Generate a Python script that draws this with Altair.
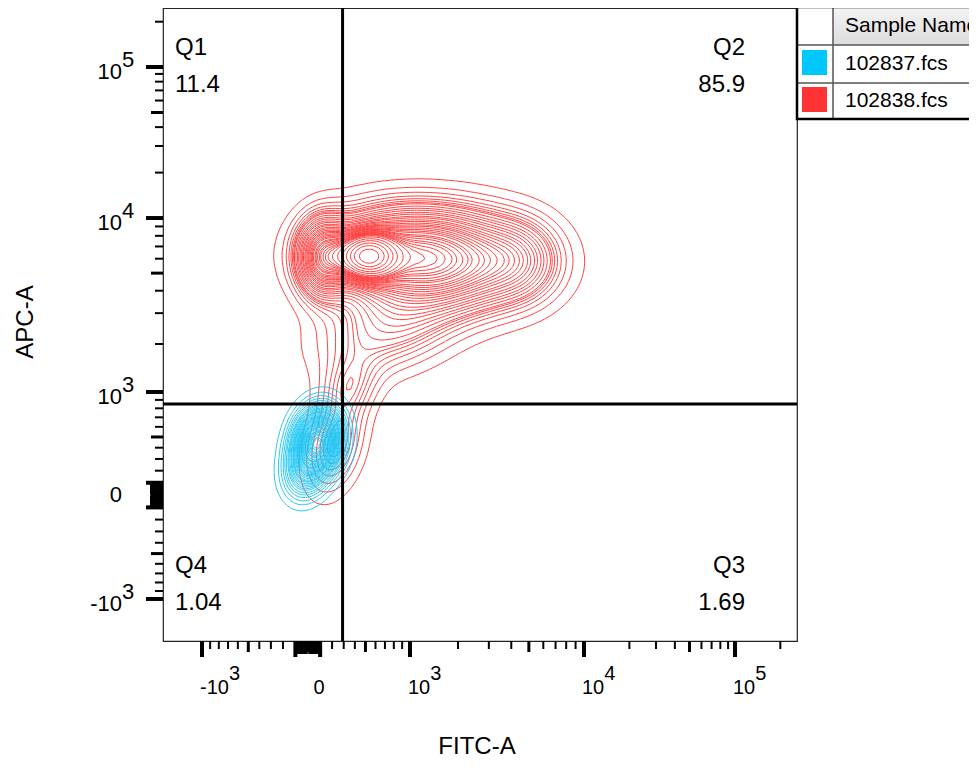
import numpy as np
import pandas as pd
import altair as alt

W, H = 634, 633
FONT = "Arial, Liberation Sans, sans-serif"

# ---------------- data ----------------
SAMPLES = ["102837.fcs", "102838.fcs"]
SWATCH = ["#00C8FF", "#FF3333"]
LINE = ["#1CC6F4", "#FF3838"]
X_TITLE = "FITC-A"
Y_TITLE = "APC-A"

# biexponential axis calibration (value -> fraction of axis length)
AX_VALUES = [-1000, 0, 1000, 10000, 100000, 262144]
X_FRAC = [0.0615, 0.2287, 0.3896, 0.6640, 0.9022, 1.0016]
Y_FRAC = [0.0664, 0.2306, 0.3934, 0.6682, 0.9068, 1.0063]
COF = 800.0

# quadrant gate
GATE_FITC = 290
GATE_APC = 850
QUAD_NAMES = ["Q1", "Q2", "Q3", "Q4"]
QUAD_VALUES = ["11.4", "85.9", "1.69", "1.04"]

# population density components (centre in channel values, spread in axis fraction)
RED_FITC = [515, 874, 2190, 4490, 120, 757, 225, 356]
RED_APC = [6200, 6300, 5770, 5900, 6100, 2500, 424, 1116]
RED_SX = [0.028, 0.079, 0.079, 0.040, 0.025, 0.071, 0.030, 0.030]
RED_SY = [0.022, 0.047, 0.050, 0.040, 0.038, 0.047, 0.050, 0.035]
RED_RHO = [0.0, 0.0, 0.0, 0.0, 0.0, 0.3, 0.3, 0.2]
RED_MASS = [0.12, 0.35, 0.25, 0.04, 0.08, 0.10, 0.04, 0.02]

BLUE_FITC = [82, -20]
BLUE_APC = [462, 210]
BLUE_SX = [0.023, 0.022]
BLUE_SY = [0.032, 0.030]
BLUE_RHO = [0.12, 0.15]
BLUE_MASS = [0.8, 0.2]

CONTOUR_STEP = 0.025  # equal-probability contour step

X_TICK_LABELS = [(-1000, "-10", "3"), (0, "0", ""), (1000, "10", "3"), (10000, "10", "4"), (100000, "10", "5")]
Y_TICK_LABELS = [(-1000, "-10", "3"), (0, "0", ""), (1000, "10", "3"), (10000, "10", "4"), (100000, "10", "5")]


# ---------------- helpers ----------------
def disp(v, frac):
    h = np.arcsinh(np.asarray(v, dtype=float) / COF)
    ha = np.arcsinh(np.asarray(AX_VALUES, dtype=float) / COF)
    return np.interp(h, ha, frac)


N = 170
gx = np.linspace(0, 1, N)
gy = np.linspace(0, 1, N)
GX, GY = np.meshgrid(gx, gy)


def density(fitc, apc, sx, sy, rho, mass):
    Z = np.zeros_like(GX)
    cxs = disp(fitc, X_FRAC)
    cys = disp(apc, Y_FRAC)
    for cx, cy, a, b, r, m in zip(cxs, cys, sx, sy, rho, mass):
        dx = (GX - cx) / a
        dy = (GY - cy) / b
        q = (dx * dx - 2 * r * dx * dy + dy * dy) / (1 - r * r)
        Z += m / (2 * np.pi * a * b * np.sqrt(1 - r * r)) * np.exp(-q / 2)
    return Z


def prob_levels(Z, step):
    d = np.sort(Z.ravel())[::-1]
    c = np.cumsum(d)
    c /= c[-1]
    fr = np.arange(1, int(round(1 / step))) * step
    idx = np.searchsorted(c, fr)
    return d[np.clip(idx, 0, len(d) - 1)]


TABLE = {1: [(3, 0)], 2: [(0, 1)], 3: [(3, 1)], 4: [(1, 2)], 5: [(3, 0), (1, 2)],
         6: [(0, 2)], 7: [(3, 2)], 8: [(2, 3)], 9: [(0, 2)], 10: [(0, 1), (2, 3)],
         11: [(1, 2)], 12: [(1, 3)], 13: [(0, 1)], 14: [(3, 0)]}


def segments(Z, level):
    v00 = Z[:-1, :-1]; v10 = Z[:-1, 1:]; v11 = Z[1:, 1:]; v01 = Z[1:, :-1]
    case = ((v00 > level).astype(int) + 2 * (v10 > level) + 4 * (v11 > level) + 8 * (v01 > level))
    X0 = gx[:-1][None, :]; X1 = gx[1:][None, :]
    Y0 = gy[:-1][:, None]; Y1 = gy[1:][:, None]
    shp = v00.shape

    def t(a, b):
        with np.errstate(divide="ignore", invalid="ignore"):
            r = (level - a) / (b - a)
        return np.clip(np.nan_to_num(r, nan=0.5), 0, 1)

    ex = [X0 + t(v00, v10) * (X1 - X0), np.broadcast_to(X1, shp),
          X0 + t(v01, v11) * (X1 - X0), np.broadcast_to(X0, shp)]
    ey = [np.broadcast_to(Y0, shp), Y0 + t(v10, v11) * (Y1 - Y0),
          np.broadcast_to(Y1, shp), Y0 + t(v00, v01) * (Y1 - Y0)]
    ex = np.stack([np.broadcast_to(e, shp) for e in ex])
    ey = np.stack([np.broadcast_to(e, shp) for e in ey])
    out = []
    for cs, pairs in TABLE.items():
        jj, ii = np.nonzero(case == cs)
        if len(jj) == 0:
            continue
        for a, b in pairs:
            out.append(np.column_stack([ex[a, jj, ii], ey[a, jj, ii], ex[b, jj, ii], ey[b, jj, ii]]))
    return np.vstack(out) if out else np.zeros((0, 4))


def contour_df(Z, name):
    segs = [segments(Z, L) for L in prob_levels(Z, CONTOUR_STEP)]
    s = np.round(np.vstack(segs), 5)
    df = pd.DataFrame(s, columns=["x", "y", "x2", "y2"])
    df["pop"] = name
    return df


red_df = contour_df(density(RED_FITC, RED_APC, RED_SX, RED_SY, RED_RHO, RED_MASS), SAMPLES[1])
blue_df = contour_df(density(BLUE_FITC, BLUE_APC, BLUE_SX, BLUE_SY, BLUE_RHO, BLUE_MASS), SAMPLES[0])

XS = alt.Scale(domain=[0, 1], nice=False, zero=False)
YS = alt.Scale(domain=[0, 1], nice=False, zero=False)
CS = alt.Scale(domain=SAMPLES, range=LINE)


def contour_layer(df):
    return alt.Chart(df).mark_rule(strokeWidth=1, opacity=0.95).encode(
        x=alt.X("x:Q", scale=XS, axis=None),
        y=alt.Y("y:Q", scale=YS, axis=None),
        x2="x2:Q", y2="y2:Q",
        color=alt.Color("pop:N", scale=CS, legend=None),
    )


layers = [contour_layer(red_df), contour_layer(blue_df)]

# gates
layers.append(alt.Chart(pd.DataFrame({"g": disp([GATE_FITC], X_FRAC)})).mark_rule(
    color="black", strokeWidth=3).encode(x=alt.X("g:Q", scale=XS, axis=None)))
layers.append(alt.Chart(pd.DataFrame({"g": disp([GATE_APC], Y_FRAC)})).mark_rule(
    color="black", strokeWidth=3).encode(y=alt.Y("g:Q", scale=YS, axis=None)))


# ticks
def tick_values():
    vals = [0.0, -1000.0]
    for d in [10, 100, 1000, 10000, 100000]:
        for m in range(1, 10):
            if m * d <= 262144:
                vals.append(float(m * d))
    for d in [10, 100]:
        for m in range(1, 10):
            vals.append(float(-m * d))
    return vals


def kind(v):
    a = abs(v)
    if a in (100, 1000, 10000, 100000):
        return "major"
    if a == 0 or a in (500, 5000, 50000):
        return "medium"
    if a < 100:
        return "cluster"
    return "minor"


TV = tick_values()
tick_df = pd.DataFrame({"v": TV, "kind": [kind(v) for v in TV]})
tick_df["xp"] = disp(tick_df["v"], X_FRAC)
tick_df["yp"] = disp(tick_df["v"], Y_FRAC)
tick_df = tick_df[(tick_df["xp"] >= 0) & (tick_df["xp"] <= 1)]

TICK_STYLE = {"major": (16, 17, 4), "medium": (11, 12, 3), "cluster": (13, 13, 2), "minor": (8, 8, 2)}
for k, (lx, ly, sw) in TICK_STYLE.items():
    sub = tick_df[tick_df["kind"] == k]
    layers.append(alt.Chart(sub).mark_rule(color="black", strokeWidth=sw).encode(
        x=alt.X("xp:Q", scale=XS, axis=None), y=alt.value(H), y2=alt.value(H + lx)))
    layers.append(alt.Chart(sub).mark_rule(color="black", strokeWidth=sw).encode(
        y=alt.Y("yp:Q", scale=YS, axis=None), x=alt.value(-ly), x2=alt.value(0)))

# tick labels
CW = {"-": 0.333, "0": 0.556, "1": 0.556}
FX, FY = 20, 22
xl = []
for v, base, ex in X_TICK_LABELS:
    p = float(disp([v], X_FRAC)[0])
    if ex:
        bw = sum(CW[c] for c in base) * FX
        j = p + (bw - 2) / W
        xl.append({"px": j, "base": base, "exp": ex, "al": "right"})
    else:
        xl.append({"px": p + 11 / W, "base": base, "exp": "", "al": "center"})
xl = pd.DataFrame(xl)
for al in ["right", "center"]:
    sub = xl[xl["al"] == al]
    layers.append(alt.Chart(sub).mark_text(align=al, baseline="middle", fontSize=FX, font=FONT,
                                           color="black").encode(
        x=alt.X("px:Q", scale=XS, axis=None), y=alt.value(H + 47), text="base:N"))
layers.append(alt.Chart(xl[xl["exp"] != ""]).mark_text(align="left", baseline="middle", fontSize=FX,
                                                      font=FONT, color="black").encode(
    x=alt.X("px:Q", scale=XS, axis=None), y=alt.value(H + 33), text="exp:N"))

yl = []
for v, base, ex in Y_TICK_LABELS:
    p = float(disp([v], Y_FRAC)[0])
    yl.append({"pb": p - (5 / H if ex else 0), "pe": p + 7 / H, "base": base, "exp": ex})
yl = pd.DataFrame(yl)
layers.append(alt.Chart(yl).mark_text(align="right", baseline="middle", fontSize=FY, font=FONT,
                                      color="black").encode(
    y=alt.Y("pb:Q", scale=YS, axis=None), x=alt.value(-41), text="base:N"))
layers.append(alt.Chart(yl[yl["exp"] != ""]).mark_text(align="left", baseline="middle", fontSize=FY,
                                                       font=FONT, color="black").encode(
    y=alt.Y("pe:Q", scale=YS, axis=None), x=alt.value(-41), text="exp:N"))

# axis titles
layers.append(alt.Chart(pd.DataFrame({"t": [X_TITLE]})).mark_text(
    align="center", baseline="middle", fontSize=24, font=FONT, color="black").encode(
    text="t:N", x=alt.value(314), y=alt.value(739)))
layers.append(alt.Chart(pd.DataFrame({"t": [Y_TITLE]})).mark_text(
    align="center", baseline="middle", fontSize=24, font=FONT, color="black", angle=270).encode(
    text="t:N", x=alt.value(-137), y=alt.value(314)))

# quadrant statistics
QPOS = {"Q1": (12, "left", 0), "Q2": (582, "right", 0), "Q3": (582, "right", 518), "Q4": (12, "left", 518)}
for name, val in zip(QUAD_NAMES, QUAD_VALUES):
    xq, al, oy = QPOS[name]
    d = pd.DataFrame({"n": [name], "v": [val]})
    layers.append(alt.Chart(d).mark_text(align=al, baseline="alphabetic", fontSize=24, font=FONT,
                                         color="black").encode(text="n:N", x=alt.value(xq), y=alt.value(47 + oy)))
    layers.append(alt.Chart(d).mark_text(align=al, baseline="alphabetic", fontSize=24, font=FONT,
                                         color="black").encode(text="v:N", x=alt.value(xq), y=alt.value(84 + oy)))

# legend table
one = pd.DataFrame({"a": [0]})
layers.append(alt.Chart(one).mark_rect(fill="white").encode(
    x=alt.value(634), x2=alt.value(840), y=alt.value(-1), y2=alt.value(111)))
layers.append(alt.Chart(one).mark_rect(fill=alt.Gradient(
    gradient="linear", x1=0, x2=0, y1=0, y2=1,
    stops=[alt.GradientStop(color="#F4F4F4", offset=0), alt.GradientStop(color="#DCDCDC", offset=1)])).encode(
    x=alt.value(670), x2=alt.value(840), y=alt.value(-1), y2=alt.value(37)))
for yy in (37, 75):
    layers.append(alt.Chart(one).mark_rule(color="#555555", strokeWidth=1.5).encode(
        x=alt.value(634), x2=alt.value(840), y=alt.value(yy)))
layers.append(alt.Chart(one).mark_rule(color="#555555", strokeWidth=1.5).encode(
    x=alt.value(670), y=alt.value(-1), y2=alt.value(111)))
layers.append(alt.Chart(one).mark_rect(fill=None, stroke="black", strokeWidth=2.5, fillOpacity=0).encode(
    x=alt.value(634), x2=alt.value(840), y=alt.value(-1), y2=alt.value(111)))
layers.append(alt.Chart(pd.DataFrame({"t": ["Sample Name"]})).mark_text(
    align="left", baseline="middle", fontSize=21, font=FONT, color="black").encode(
    text="t:N", x=alt.value(682), y=alt.value(18)))
for i, (s, c) in enumerate(zip(SAMPLES, SWATCH)):
    y0 = 42 + 37 * i
    layers.append(alt.Chart(one).mark_rect(color=c).encode(
        x=alt.value(639), x2=alt.value(664), y=alt.value(y0), y2=alt.value(y0 + 25)))
    layers.append(alt.Chart(pd.DataFrame({"t": [s]})).mark_text(
        align="left", baseline="middle", fontSize=21, font=FONT, color="black").encode(
        text="t:N", x=alt.value(682), y=alt.value(56 + 37 * i)))

chart = alt.layer(*layers).properties(
    width=W, height=H,
    autosize=alt.AutoSizeParams(type="none"),
    padding={"left": 155, "top": 0, "right": 172, "bottom": 120},
).configure_view(stroke="#222222", strokeWidth=1.2)

chart.save("out.html", embed_options={"renderer": "svg", "actions": False})
